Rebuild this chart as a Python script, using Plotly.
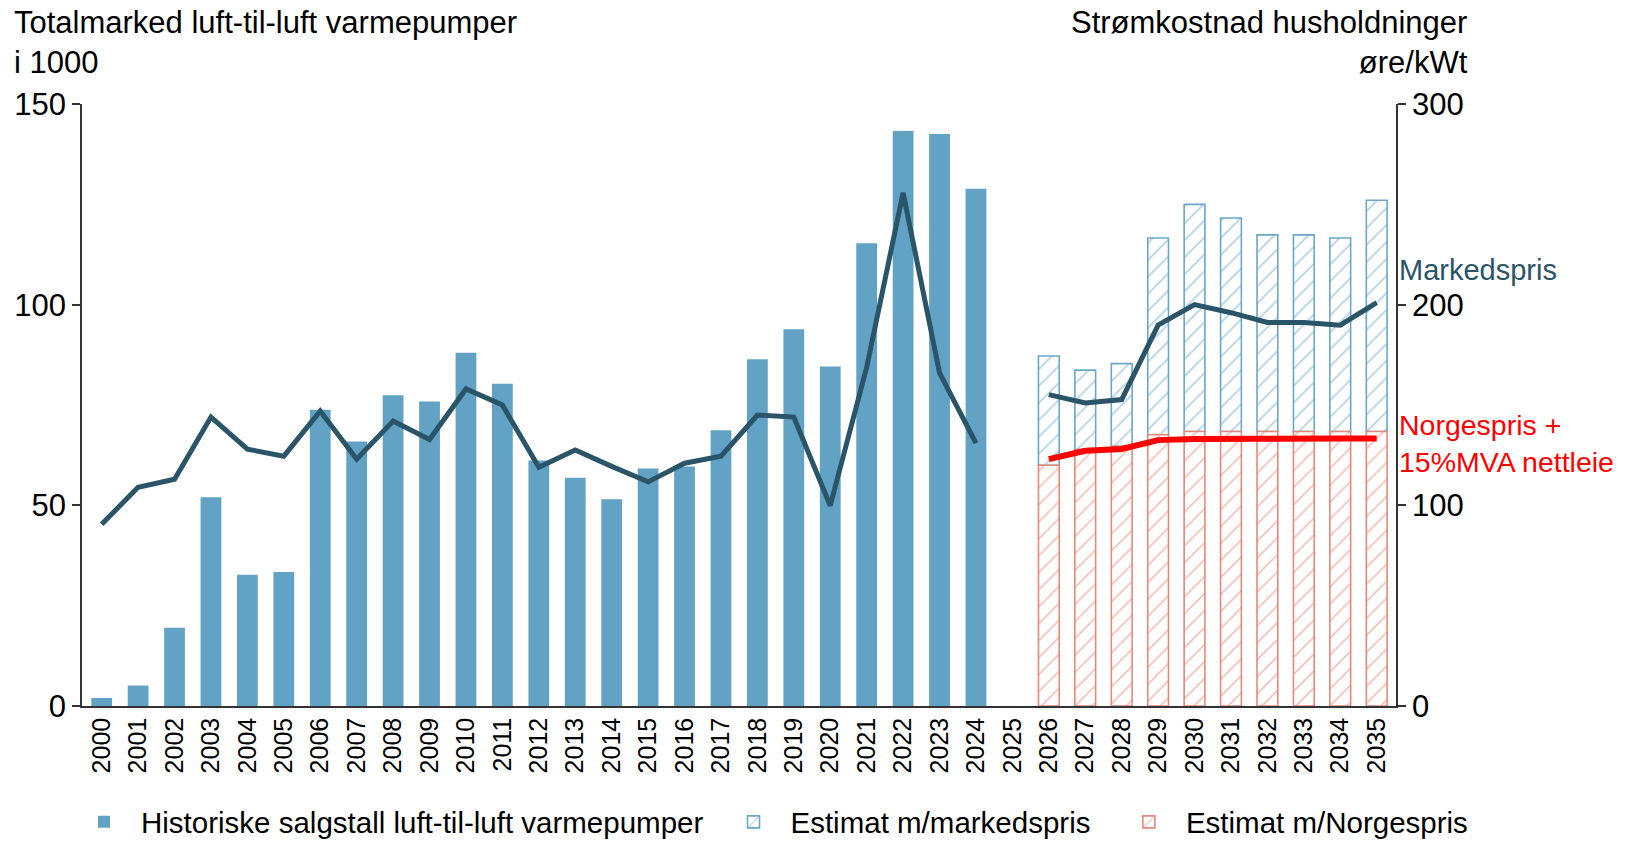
import plotly.graph_objects as go

years = ["2000", "2001", "2002", "2003", "2004", "2005", "2006", "2007", "2008", "2009",
         "2010", "2011", "2012", "2013", "2014", "2015", "2016", "2017", "2018", "2019",
         "2020", "2021", "2022", "2023", "2024", "2025", "2026", "2027", "2028", "2029",
         "2030", "2031", "2032", "2033", "2034", "2035"]

hist_years = years[:25]
hist_sales = [2.0, 5.1, 19.5, 52.0, 32.7, 33.4, 73.8, 65.9, 77.4, 75.9,
              88.0, 80.3, 61.2, 56.9, 51.5, 59.2, 59.7, 68.7, 86.4, 93.9,
              84.6, 115.3, 143.3, 142.5, 128.9]

est_years = years[26:]
est_market = [87.2, 83.7, 85.3, 116.6, 125.0, 121.6, 117.4, 117.4, 116.6, 126.0]
est_norges = [60.0, 63.9, 64.7, 67.6, 68.4, 68.4, 68.4, 68.4, 68.4, 68.4]

price_market = [90.6, 109, 113, 144, 128, 124.5, 147, 123, 142, 132.8,
                158, 150, 119, 127.6, 119.4, 111.7, 121, 124.5, 145, 144,
                99.8, 168.8, 255.8, 166, 131, None, 155.2, 151, 152.7, 189.8,
                200, 196, 191.1, 191.1, 189.8, 201]
price_norges = [123, 127.2, 128.1, 132.5, 133.1, 133.3, 133.3, 133.3, 133.3, 133.3]

FONT = "Liberation Sans, Arial, Helvetica, sans-serif"
BLUE = "#62A2C4"
HATCH_BLUE = "#6AA7C9"
SALMON = "#E8887A"
DARK = "#2A5468"
RED = "#FF0000"
AX = "#333333"
NB = "\u00a0"

fig = go.Figure()
fig.add_trace(go.Bar(
    x=hist_years, y=hist_sales,
    name="Historiske salgstall luft-til-luft varmepumper" + NB,
    marker=dict(color=BLUE, line=dict(width=0)),
))
fig.add_trace(go.Bar(
    x=est_years, y=[m - n for m, n in zip(est_market, est_norges)], base=est_norges,
    name="Estimat m/markedspris" + NB * 2,
    marker=dict(color="white", line=dict(color=HATCH_BLUE, width=1.6),
                pattern=dict(shape="/", fgcolor=HATCH_BLUE, bgcolor="white",
                             size=12, solidity=0.15)),
))
fig.add_trace(go.Bar(
    x=est_years, y=est_norges, name="Estimat m/Norgespris",
    marker=dict(color="white", line=dict(color=SALMON, width=1.6),
                pattern=dict(shape="/", fgcolor=SALMON, bgcolor="white",
                             size=12, solidity=0.15)),
))
fig.add_trace(go.Scatter(
    x=years, y=price_market, yaxis="y2", mode="lines", connectgaps=False,
    line=dict(color=DARK, width=5), showlegend=False, name="Markedspris",
))
fig.add_trace(go.Scatter(
    x=est_years, y=price_norges, yaxis="y2", mode="lines",
    line=dict(color=RED, width=6), showlegend=False, name="Norgespris",
))

fig.update_layout(
    width=1627, height=841,
    margin=dict(l=82, r=231, t=104, b=135, autoexpand=False),
    paper_bgcolor="white", plot_bgcolor="white",
    font=dict(family=FONT, color="black", size=29),
    barmode="overlay", bargap=0.43,
    xaxis=dict(type="category", categoryorder="array", categoryarray=years,
               range=[-0.54, 35.53], tickangle=-90, tickfont=dict(size=25),
               showline=True, linecolor=AX, linewidth=1.5, ticks="",
               showgrid=False, zeroline=False, automargin=False),
    yaxis=dict(range=[0, 150], tickvals=[0, 50, 100, 150], ticks="outside",
               ticklen=8, tickcolor=AX, tickwidth=1.5, showline=True,
               linecolor=AX, linewidth=1.5, showgrid=False, zeroline=False,
               tickfont=dict(size=31), automargin=False),
    yaxis2=dict(range=[0, 300], tickvals=[0, 100, 200, 300], overlaying="y",
                side="right", ticks="outside", ticklen=8, tickcolor=AX,
                tickwidth=1.5, showline=True, linecolor=AX, linewidth=1.5,
                showgrid=False, zeroline=False, tickfont=dict(size=31),
                automargin=False),
    legend=dict(orientation="h", x=1.0586, xanchor="right",
                y=-0.193, yanchor="middle",
                font=dict(size=29.5), traceorder="normal",
                itemwidth=64, bgcolor="rgba(0,0,0,0)"),
    showlegend=True,
)

fig.add_annotation(text="Totalmarked luft-til-luft varmepumper<br>i 1000",
                   xref="paper", yref="paper", x=-0.0535, y=1.1676,
                   xanchor="left", yanchor="top", align="left", showarrow=False,
                   font=dict(size=31))
fig.add_annotation(text="Strømkostnad husholdninger<br>øre/kWt",
                   xref="paper", yref="paper", x=1.0565, y=1.1676,
                   xanchor="right", yanchor="top", align="right", showarrow=False,
                   font=dict(size=31))
fig.add_annotation(text="Markedspris", xref="paper", yref="paper",
                   x=1.001, y=0.7245, xanchor="left", yanchor="middle",
                   align="left", showarrow=False, font=dict(size=29, color=DARK))
fig.add_annotation(text="Norgespris +<br>15%MVA nettleie", xref="paper", yref="paper",
                   x=1.001, y=0.4365, xanchor="left", yanchor="middle",
                   align="left", showarrow=False, font=dict(size=28.5, color=RED))

fig.write_html("out.html", config={"displayModeBar": False},
               post_script="document.body.style.margin='0px';")
